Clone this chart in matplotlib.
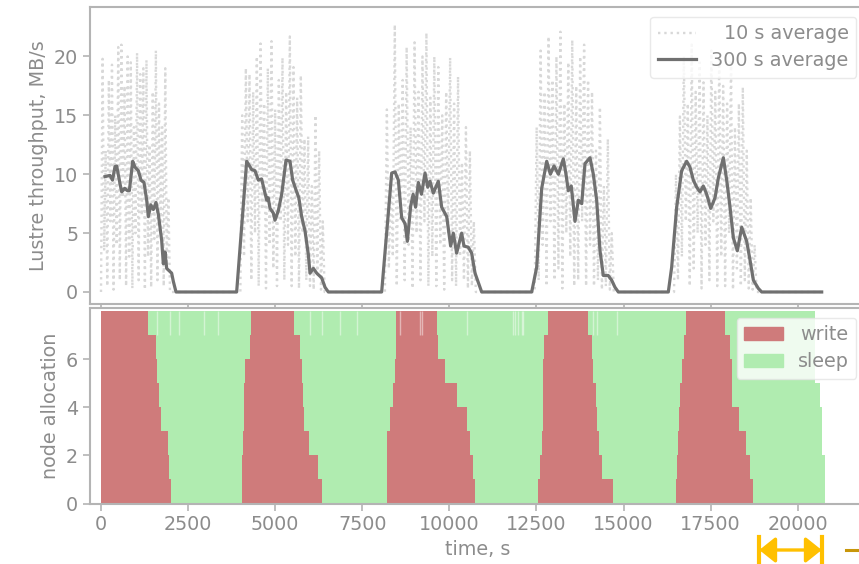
import numpy as np
import matplotlib
matplotlib.use("Agg")
import matplotlib.pyplot as plt
from matplotlib.patches import Patch, FancyArrowPatch
from matplotlib.lines import Line2D

# ---------------- data ----------------
# 300 s average throughput (time s, MB/s)
t300 = [115, 258, 330, 402, 450, 545, 594, 680, 760, 814, 910, 976, 1072, 1148, 1234, 1311, 1359, 1430, 1502, 1579,
        1646, 1741, 1789, 1837, 1885, 2028, 2076, 2153,
        3894, 4182, 4325, 4420, 4517, 4610, 4756, 4800, 4852, 4947, 4995, 5090, 5187, 5311, 5426, 5502, 5617, 5680,
        5760, 5856, 5951, 6000, 6096, 6192, 6335, 6431, 6526,
        8057, 8345, 8440, 8536, 8632, 8730, 8794, 8890, 8960, 9030, 9110, 9200, 9302, 9380, 9445, 9540, 9683, 9780,
        9924, 10037, 10113, 10209, 10353, 10420, 10544, 10640, 10737, 10880, 10928,
        12364, 12507, 12651, 12795, 12900, 13004, 13130, 13272, 13349, 13415, 13500, 13607, 13703, 13800, 13894,
        14038, 14133, 14229, 14325, 14420, 14560, 14660, 14755, 14851,
        16286, 16382, 16526, 16669, 16813, 16908, 17004, 17100, 17196, 17290, 17388, 17503, 17627, 17723, 17866,
        17962, 18058, 18153, 18268, 18393, 18536, 18632, 18728, 18871, 18967, 20689]
v300 = [9.8, 9.9, 9.5, 10.65, 10.7, 9.2, 8.5, 8.8, 8.6, 8.6, 11.1, 10.6, 10.3, 9.5, 9.3, 7.8, 6.4, 7.4, 7.0, 7.6,
        6.6, 4.4, 2.4, 3.4, 2.0, 1.6, 0.9, 0.0,
        0.0, 11.1, 10.4, 10.3, 9.5, 9.6, 7.8, 8.0, 7.1, 6.7, 6.1, 6.9, 8.3, 11.2, 11.1, 9.5, 8.5, 8.0,
        6.4, 5.2, 3.2, 1.6, 2.0, 1.6, 1.2, 0.4, 0.0,
        0.0, 10.1, 10.2, 9.5, 6.3, 5.8, 4.3, 7.3, 8.3, 7.2, 9.3, 8.3, 10.1, 8.9, 9.4, 8.4, 9.4, 7.2,
        6.4, 3.9, 5.0, 3.3, 5.0, 3.9, 3.8, 3.3, 1.6, 0.4, 0.0,
        0.0, 2.1, 8.8, 11.1, 10.0, 10.7, 10.0, 11.3, 10.0, 8.6, 9.0, 6.0, 7.8, 7.5, 10.9,
        11.4, 10.0, 7.8, 3.5, 1.4, 1.4, 1.0, 0.4, 0.0,
        0.0, 2.1, 7.2, 10.3, 11.1, 10.6, 9.5, 8.9, 8.5, 9.0, 8.3, 7.1, 8.0, 9.7, 11.4,
        9.5, 7.2, 4.6, 3.5, 5.5, 4.3, 2.7, 1.0, 0.3, 0.0, 0.0]

# 10 s average throughput, per write burst (start s, end s, sampled values)
burst_start = [0, 4000, 8150, 12450, 16450]
burst_end = [1980, 6420, 10760, 14720, 18820]
burst_vals = [
    [0.0, 19.8, 3.5, 12.0, 0.5, 18.0, 6.0, 19.3, 0.2, 15.0, 4.0, 20.8, 1.0, 21.0, 8.0, 17.5, 0.5, 20.0, 3.0,
     19.5, 0.3, 14.0, 5.0, 20.3, 1.0, 18.5, 6.5, 19.0, 0.2, 19.7, 3.0, 12.5, 0.4, 17.0, 4.5, 20.5, 1.0, 16.0,
     5.5, 14.0, 0.5, 19.0, 2.0, 8.0, 0.0],
    [0.0, 15.0, 3.0, 19.0, 6.0, 18.5, 1.0, 17.0, 5.0, 20.0, 0.5, 21.1, 7.0, 16.0, 0.3, 19.0, 4.0, 21.3, 2.0,
     15.5, 0.5, 18.0, 6.0, 19.9, 1.0, 17.0, 4.0, 21.7, 0.5, 19.1, 3.0, 16.5, 0.3, 18.4, 5.0, 13.0, 1.0, 13.2,
     0.5, 9.0, 0.2, 15.0, 1.5, 12.0, 0.2, 6.0, 0.0],
    [0.0, 15.5, 2.0, 10.0, 3.0, 22.7, 0.5, 16.0, 6.0, 18.0, 1.0, 20.8, 4.0, 14.0, 0.3, 21.2, 5.0, 17.0, 1.0,
     20.0, 6.0, 22.0, 0.5, 16.5, 3.0, 20.0, 0.5, 19.1, 4.0, 15.0, 0.2, 17.0, 5.0, 19.9, 1.0, 16.0, 0.5, 18.3,
     3.0, 11.0, 1.0, 14.0, 0.3, 12.0, 0.5, 6.0, 0.0],
    [0.0, 14.0, 1.0, 20.5, 4.0, 17.0, 0.5, 21.7, 6.0, 18.0, 1.0, 20.0, 2.0, 22.1, 0.3, 16.0, 5.0, 19.5, 3.0,
     21.4, 0.5, 17.5, 1.0, 20.0, 6.0, 21.0, 0.5, 18.0, 4.0, 17.0, 0.5, 12.0, 1.0, 15.7, 0.2, 9.0, 0.5, 13.0,
     0.2, 5.0, 0.0],
    [0.0, 10.0, 1.0, 14.9, 3.0, 20.0, 6.0, 16.0, 0.5, 21.0, 2.0, 17.0, 5.0, 19.5, 0.3, 17.8, 4.0, 15.0, 1.0,
     20.5, 6.0, 17.0, 0.5, 20.0, 3.0, 17.5, 0.5, 16.0, 5.0, 19.5, 0.2, 14.0, 2.0, 16.0, 0.5, 17.4, 1.0, 12.0,
     0.3, 8.0, 0.2, 4.0, 0.0],
]
t10_end = 20689

# node allocation: per cycle, per node (rows 0..7)
write_start = [
    [0, 0, 0, 0, 0, 0, 0, 0],
    [4038, 4048, 4067, 4096, 4115, 4143, 4278, 4297],
    [8215, 8215, 8220, 8296, 8392, 8440, 8460, 8465],
    [12555, 12600, 12650, 12679, 12679, 12679, 12717, 12822],
    [16507, 16540, 16573, 16600, 16621, 16669, 16736, 16794],
]
write_end = [
    [2001, 1962, 1914, 1732, 1655, 1617, 1570, 1359],
    [6335, 6239, 5971, 5830, 5809, 5761, 5713, 5550],
    [10736, 10689, 10593, 10497, 10210, 9875, 9684, 9636],
    [14688, 14372, 14305, 14229, 14200, 14133, 14085, 13990],
    [18727, 18631, 18516, 18324, 18106, 18106, 18058, 17914],
]
last_sleep_end = [20790, 20784, 20700, 20690, 20640, 20500, 20500, 20500]
node7_gaps = [1598, 1981, 2250, 2950, 3350, 6000, 6335, 6861, 7340, 8583, 9157, 9206,
              10497, 11836, 11885, 11980, 12076, 12124, 14133, 14230, 14803]

# ---------------- style ----------------
FS = 13.8
TXT = "#8c8c8c"
SP = "#b4b4b4"
RED = "#cf7b7b"
GREEN = "#b0ecb0"
plt.rcParams.update({
    "font.family": ["DejaVu Sans"],
    "font.size": FS,
    "text.color": TXT,
    "axes.labelcolor": TXT,
    "xtick.color": SP,
    "ytick.color": SP,
    "xtick.labelcolor": TXT,
    "ytick.labelcolor": TXT,
    "axes.edgecolor": SP,
    "axes.linewidth": 1.5,
})

fig = plt.figure(figsize=(8.59, 5.64), dpi=100)
W, H = 859.0, 564.0
left = 90 / W
right = 866 / W
ax1 = fig.add_axes([left, 1 - 304 / H, right - left, (304 - 7) / H])
ax2 = fig.add_axes([left, 1 - 503.5 / H, right - left, (503.5 - 308) / H], sharex=ax1)

# ---- top panel ----
t10 = []
v10 = []
for s, e, vals in zip(burst_start, burst_end, burst_vals):
    tt = np.linspace(s, e, len(vals))
    t10.extend(tt.tolist())
    v10.extend(vals)
t10.append(t10_end)
v10.append(0.0)
ax1.plot(t10, v10, linestyle=":", color="#d8d8d8", lw=1.7, label="10 s average")
ax1.plot(t300, v300, color="#707070", lw=2.3, label="300 s average")
ax1.set_ylim(-1.02, 24.2)
ax1.set_yticks([0, 5, 10, 15, 20])
ax1.set_ylabel("Lustre throughput, MB/s")
ax1.tick_params(axis="x", labelbottom=False, length=5, width=1.2)
ax1.tick_params(axis="y", length=5, width=1.2)

leg1 = ax1.legend(loc="upper right", fontsize=FS, frameon=True, framealpha=0.8, edgecolor="#e4e4e4",
                  borderpad=0.4, labelspacing=0.4)
for t in leg1.get_texts():
    t.set_color(TXT)

# ---- bottom panel ----
ncyc = len(write_start)
for c in range(ncyc):
    for row in range(8):
        ws = write_start[c][row]
        we = write_end[c][row]
        se = write_start[c + 1][row] if c + 1 < ncyc else last_sleep_end[row]
        ax2.barh(row, we - ws, left=ws, height=1.0, align="edge", color=RED, linewidth=0)
        ax2.barh(row, se - we, left=we, height=1.0, align="edge", color=GREEN, linewidth=0)
ax2.vlines(node7_gaps, 7, 8, colors="white", lw=1.0, alpha=0.45)
ax2.set_ylim(0, 8.12)
ax2.set_yticks([0, 2, 4, 6])
ax2.set_ylabel("node allocation")
ax2.set_xlabel("time, s")
ax2.set_xlim(-316, 21961)
ax2.set_xticks([0, 2500, 5000, 7500, 10000, 12500, 15000, 17500, 20000])
ax2.tick_params(length=5, width=1.2)
handles = [Patch(color=RED, label="write"), Patch(color=GREEN, label="sleep")]
leg2 = ax2.legend(handles=handles, loc="upper right", fontsize=FS, frameon=True, framealpha=0.8,
                  edgecolor="#e4e4e4", borderpad=0.4, labelspacing=0.4)
for t in leg2.get_texts():
    t.set_color(TXT)

fig.align_ylabels([ax1, ax2])

# right-align legend labels (shift shorter labels right)
fig.canvas.draw()
renderer = fig.canvas.get_renderer()
for leg in (leg1, leg2):
    texts = leg.get_texts()
    widths = [t.get_window_extent(renderer).width for t in texts]
    mw = max(widths)
    for t, w in zip(texts, widths):
        t.set_position((mw - w, 0))

# orange span marker overlay
OR = "#ffc000"
x1, x2, ya = 759.3 / W, 821.7 / W, 1 - 550 / H
fig.add_artist(FancyArrowPatch((x1, ya), (x2, ya), transform=fig.transFigure,
                               arrowstyle="<|-|>,head_length=0.75,head_width=0.6", mutation_scale=13,
                               color=OR, lw=2.4, shrinkA=0, shrinkB=0))
for xb in (x1, x2):
    fig.add_artist(Line2D([xb, xb], [1 - 536.7 / H, -0.01], transform=fig.transFigure, color=OR, lw=3))
fig.add_artist(Line2D([846 / W, 1.0], [ya, ya], transform=fig.transFigure, color="#c8960a", lw=2.2))

fig.savefig("out.png", dpi=100)
